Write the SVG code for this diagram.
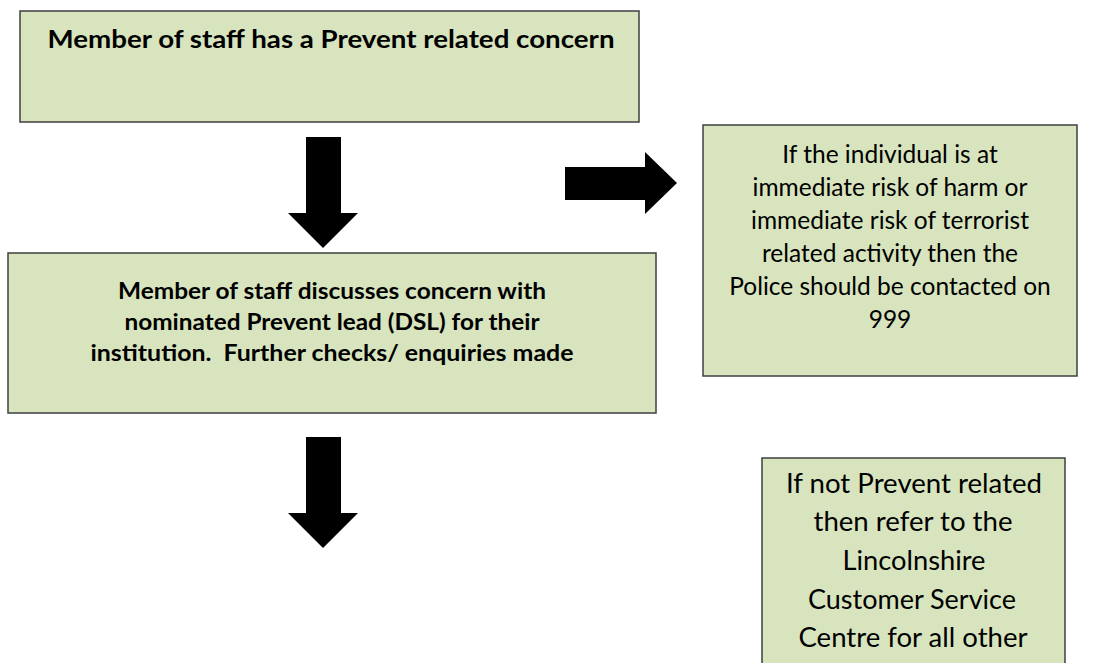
<svg xmlns="http://www.w3.org/2000/svg" width="1103" height="663" viewBox="0 0 1103 663">
<style>
.box{fill:#D7E4BD;stroke:#3F3F3F;stroke-width:1.5}
.t{font-family:Lato,"Open Sans",sans-serif;fill:#000;text-anchor:middle}
.b1{font-weight:bold;font-size:25px}
.b2{font-weight:bold;font-size:23.5px}
.r3{font-size:24.5px}
.r4{font-size:26px}
.arrow{fill:#000}
</style>
<rect width="1103" height="663" fill="#fff"/>
<g id="node1">
<rect class="box" x="20" y="11" width="619" height="111"/>
<text class="t b1" x="331" y="48" textLength="567" lengthAdjust="spacingAndGlyphs">Member of staff has a Prevent related concern</text>
</g>
<g id="node2">
<rect class="box" x="8" y="253" width="648" height="160"/>
<text class="t b2" x="332" y="299" textLength="428" lengthAdjust="spacingAndGlyphs">Member of staff discusses concern with</text>
<text class="t b2" x="332" y="330" textLength="415" lengthAdjust="spacingAndGlyphs">nominated Prevent lead (DSL) for their</text>
<text class="t b2" x="332" y="361" textLength="483" lengthAdjust="spacingAndGlyphs" xml:space="preserve">institution.  Further checks/ enquiries made</text>
</g>
<g id="node3">
<rect class="box" x="703" y="125" width="374" height="251"/>
<text class="t r3" x="890" y="163">If the individual is at</text>
<text class="t r3" x="890" y="196">immediate risk of harm or</text>
<text class="t r3" x="890" y="229">immediate risk of terrorist</text>
<text class="t r3" x="890" y="262">related activity then the</text>
<text class="t r3" x="890" y="295">Police should be contacted on</text>
<text class="t r3" x="890" y="328">999</text>
</g>
<g id="node4">
<rect class="box" x="762" y="458" width="303" height="220"/>
<text class="t r4" x="914" y="493" textLength="256" lengthAdjust="spacingAndGlyphs">If not Prevent related</text>
<text class="t r4" x="913" y="531" textLength="199" lengthAdjust="spacingAndGlyphs">then refer to the</text>
<text class="t r4" x="914" y="570" textLength="143" lengthAdjust="spacingAndGlyphs">Lincolnshire</text>
<text class="t r4" x="912" y="609" textLength="208" lengthAdjust="spacingAndGlyphs">Customer Service</text>
<text class="t r4" x="913" y="647" textLength="229" lengthAdjust="spacingAndGlyphs">Centre for all other</text>
</g>
<g id="connectors">
<polygon class="arrow" points="306,137 341,137 341,213 358,213 323,248 288,213 306,213"/>
<polygon class="arrow" points="565,167 645,167 645,152 677,183 645,214 645,200 565,200"/>
<polygon class="arrow" points="306,437 341,437 341,513 358,513 323,548 288,513 306,513"/>
</g>
</svg>
